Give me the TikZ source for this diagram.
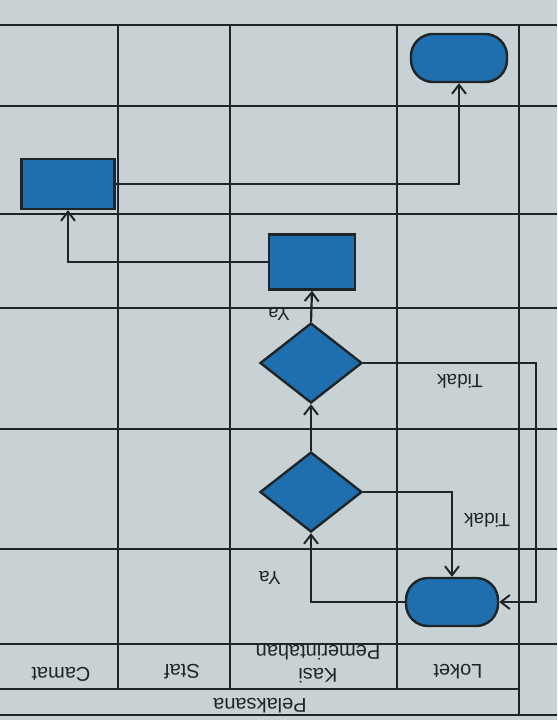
\documentclass[tikz,border=0pt]{standalone}
\usepackage{fontspec}
\setmainfont{Liberation Sans}
\usetikzlibrary{shapes.geometric,arrows.meta}
\definecolor{paper}{HTML}{C8D2D5}
\definecolor{shapefill}{HTML}{1F6EAD}
\definecolor{ink}{HTML}{1F2427}
\begin{document}
\begin{tikzpicture}[x=1pt,y=-1pt,
  grid/.style={ink,line width=1.8pt},
  termbox/.style={draw=ink,fill=shapefill,line width=2.4pt,rectangle,rounded corners=22pt,inner sep=0pt},
  procbox/.style={draw=ink,fill=shapefill,line width=2.4pt,rectangle,inner sep=0pt},
  decbox/.style={draw=ink,fill=shapefill,line width=2.4pt,diamond,inner sep=0pt},
  conn/.style={ink,line width=2.2pt,-{Straight Barb[length=9pt,width=14pt,line width=2pt]}},
  lbl/.style={rotate=180,text=ink,font=\fontsize{19}{23}\selectfont,inner sep=0pt},
  hdr/.style={rotate=180,text=ink,font=\fontsize{20}{23}\selectfont,inner sep=0pt,align=center}]
\fill[paper] (0,0) rectangle (557,720);
\useasboundingbox (0,0) rectangle (557,720);
% grid
\foreach \yy in {25,106,214,308,429,549,644,715}
  \draw[grid] (0,\yy) -- (557,\yy);
\draw[grid] (0,689) -- (519,689);
\foreach \xx in {118,230,397}
  \draw[grid] (\xx,25) -- (\xx,689);
\draw[grid] (519,25) -- (519,715);
% shapes
\node[termbox,minimum width=96pt,minimum height=48pt] (end) at (459,58) {};
\node[procbox,minimum width=93pt,minimum height=50pt] (p2) at (68,184) {};
\node[procbox,minimum width=86pt,minimum height=55pt] (p1) at (312,262) {};
\node[decbox,minimum width=102pt,minimum height=80pt] (d1) at (311,363) {};
\node[decbox,minimum width=102pt,minimum height=80pt] (d2) at (311,492) {};
\node[termbox,minimum width=92pt,minimum height=48pt] (start) at (452,602) {};
\coordinate (ret) at (536,480);
% connectors
\draw[conn] (start.west) -| (d2.south);
\draw[conn] (d2.east) -| (start.north);
\draw[conn] (d2.north) -- (d1.south);
\draw[conn] (d1.east) -| (ret) |- (start.east);
\draw[conn] (d1.north) -- (p1.south);
\draw[conn] (p1.west) -| (p2.south);
\draw[conn] (p2.east) -| (end.south);
% labels
\node[lbl] (t1) at (460,381) {Tidak};
\node[lbl] (t2) at (487,520) {Tidak};
\node[lbl] (y1) at (279,314) {Ya};
\node[lbl] (y2) at (270,578) {Ya};
% headers
\node[hdr] (h1) at (61,674) {Camat};
\node[hdr] (h2) at (182,672) {Staf};
\node[hdr] (h3) at (318,664) {Kasi\\Pemerintahan};
\node[hdr] (h4) at (458,672) {Loket};
\node[hdr] (h5) at (260,706) {Pelaksana};
\end{tikzpicture}
\end{document}
